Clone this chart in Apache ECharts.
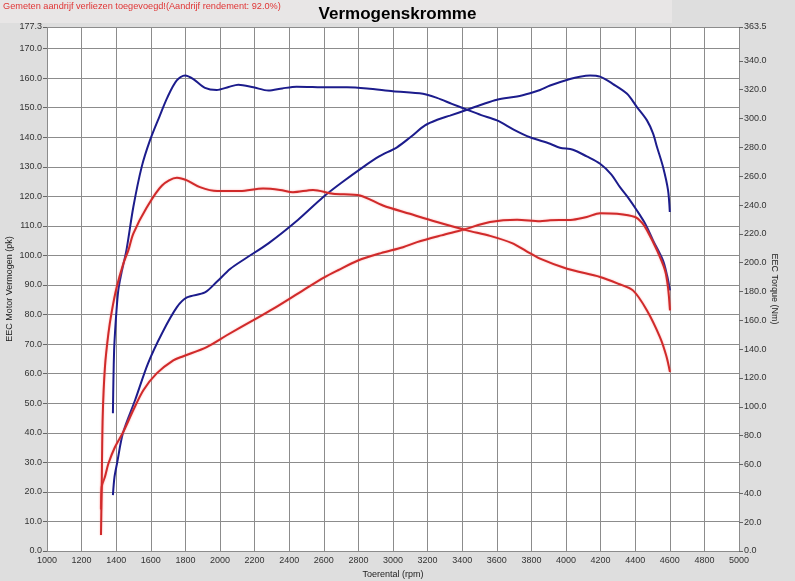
<!DOCTYPE html>
<html>
<head>
<meta charset="utf-8">
<script src="https://cdn.jsdelivr.net/npm/echarts@6/dist/echarts.min.js"></script>
<style>
html,body{margin:0;padding:0;background:#dedede;}
#c{width:795px;height:581px;}
</style>
</head>
<body>
<div id="c"></div>
<script>
// Blue run - power (pk, left axis)
var bluePowerRpm = [1381,1390,1405,1439,1509,1584,1665,1751,1809,1913,1980,2060,2145,2280,2450,2595,2700,2827,2920,3023,3100,3185,3260,3329,3428,3510,3601,3717,3792,3850,3908,4023,4080,4139,4197,4272,4353,4410,4468,4503,4526,4561,4590,4600];
var bluePowerPk  = [18.9,25,29.7,39.9,51,63.5,73.7,82.5,85.8,87.5,91,95.5,98.9,104.1,112,119.7,124.5,129.9,133.5,136.6,140,144,146,147.3,149.3,151,152.7,153.8,154.9,156,157.5,159.7,160.5,160.9,160.5,158,154.7,150.2,145.7,141.3,136.7,129.9,122,114.7];
// Blue run - torque (Nm, right axis)
var blueTorqueRpm = [1381,1384,1388,1393,1400,1412,1430,1459,1499,1547,1595,1650,1696,1750,1798,1846,1913,1981,2050,2106,2193,2280,2360,2443,2626,2734,2850,3000,3173,3254,3340,3428,3510,3601,3700,3792,3908,3965,4040,4120,4197,4260,4312,4360,4410,4460,4503,4561,4585,4601];
var blueTorqueNm  = [95.5,118.9,139.4,151.1,164.0,180.8,192.7,208.5,238.6,266.3,284.8,301.4,314.7,326.4,329.9,327.4,321.3,319.8,321.9,323.5,321.7,319.4,320.9,322.1,321.7,321.7,320.9,319.0,317.2,314.3,310.2,306.1,302.4,298.7,292.2,287.0,282.5,279.7,278.4,273.7,268.6,261.4,252.4,245.0,236.2,226.5,215.5,201.5,190.7,180.8];
// Red run - power (pk, left axis)
var redPowerRpm = [1312,1316,1335,1355,1393,1441,1499,1557,1634,1730,1788,1923,2039,2193,2309,2480,2600,2682,2798,2930,3058,3139,3280,3405,3561,3717,3850,3908,4040,4120,4197,4295,4399,4440,4468,4526,4572,4590,4601];
var redPowerPk  = [14,21.7,25.1,29.6,35.2,40.3,47.7,54.4,60.1,64.5,65.9,69,73,78.1,82,88.2,92.5,95,98.3,100.8,102.8,104.5,106.8,108.7,111.3,112.1,111.6,111.9,112.1,113,114.3,114.1,113,111,108.5,101.7,95,89,81.4];
// Red run - torque (Nm, right axis)
var redTorqueRpm = [1312,1316,1322,1335,1355,1374,1403,1441,1470,1499,1578,1665,1751,1809,1884,1983,2116,2249,2347,2422,2538,2653,2809,2942,3098,3254,3428,3561,3688,3770,3850,4006,4197,4300,4387,4468,4543,4580,4601];
var redTorqueNm  = [11.1,42.2,93.1,127.7,150.9,165.9,183.1,199.3,208.5,220.2,238.6,253.6,258.9,257.1,252.4,249.7,249.7,251.4,250.5,248.9,250.5,247.9,246.6,239.7,233.9,228.2,222.4,218.6,213.6,208.1,202.8,195.8,190.1,185.5,180.8,166.9,148.4,135.3,124.2];
// Axis tick labels
var leftTicks  = [0,10,20,30,40,50,60,70,80,90,100,110,120,130,140,150,160,170,177.3];
var rightTicks = [0,20,40,60,80,100,120,140,160,180,200,220,240,260,280,300,320,340,363.5];

function pairs(xs, ys){ return xs.map(function(x,i){ return [x, ys[i]]; }); }

var FONT = 'Liberation Sans, Arial, sans-serif';
var chart = echarts.init(document.getElementById('c'), null, {renderer:'canvas'});
chart.setOption({
  backgroundColor:'#dedede',
  animation:false,
  title:{text:'Vermogenskromme', left:'center', top:1,
    textStyle:{fontFamily:FONT, fontSize:17, fontWeight:'bold', color:'#000'}},
  graphic:[
    {type:'rect', left:0, top:0, z:-1, shape:{width:672, height:23}, style:{fill:'#e8e6e6'}},
    {type:'text', left:3, top:2, style:{text:'Gemeten aandrijf verliezen toegevoegd!(Aandrijf rendement: 92.0%)',
      fill:'#e03535', font:'9.2px Liberation Sans, Arial, sans-serif'}}
  ],
  grid:{left:47, right:56, top:27, bottom:30, show:true, backgroundColor:'#ffffff', borderWidth:0,
    containLabel:false, outerBoundsMode:'none'},
  xAxis:{type:'value', min:1000, max:5000, interval:200,
    name:'Toerental (rpm)', nameLocation:'middle', nameGap:19, nameMoveOverlap:false,
    nameTextStyle:{fontFamily:FONT, fontSize:9, color:'#222'},
    axisLine:{show:false}, axisTick:{show:false},
    axisLabel:{fontFamily:FONT, fontSize:9, color:'#333', margin:5, formatter:function(v){return String(v);}},
    splitLine:{show:true, lineStyle:{color:'#8c8c8c', width:1}}},
  yAxis:[
    {type:'value', min:0, max:177.3, interval:10, position:'left',
      name:'EEC Motor Vermogen (pk)', nameLocation:'middle', nameGap:33, nameRotate:90, nameMoveOverlap:false,
      nameTextStyle:{fontFamily:FONT, fontSize:9, color:'#222'},
      axisLine:{show:false},
      axisTick:{show:true, length:4, lineStyle:{color:'#666'}, customValues:leftTicks},
      axisLabel:{fontFamily:FONT, fontSize:9, color:'#333', margin:5, customValues:leftTicks,
        formatter:function(v){return v.toFixed(1);}},
      splitLine:{show:true, lineStyle:{color:'#8c8c8c', width:1}}},
    {type:'value', min:0, max:363.5, interval:20, position:'right',
      name:'EEC Torque (Nm)', nameLocation:'middle', nameGap:31, nameRotate:-90, nameMoveOverlap:false,
      nameTextStyle:{fontFamily:FONT, fontSize:9, color:'#222'},
      axisLine:{show:false},
      axisTick:{show:true, length:4, lineStyle:{color:'#666'}, customValues:rightTicks},
      axisLabel:{fontFamily:FONT, fontSize:9, color:'#333', margin:5, customValues:rightTicks,
        formatter:function(v){return v.toFixed(1);}},
      splitLine:{show:false}}
  ],
  series:[
    {type:'line', name:'P blauw', yAxisIndex:0, data:pairs(bluePowerRpm,bluePowerPk), showSymbol:false, smooth:0.3,
      lineStyle:{color:'#1c1c8c', width:2}},
    {type:'line', name:'T blauw', yAxisIndex:1, data:pairs(blueTorqueRpm,blueTorqueNm), showSymbol:false, smooth:0.3,
      lineStyle:{color:'#1c1c8c', width:2}},
    {type:'line', name:'P rood', yAxisIndex:0, data:pairs(redPowerRpm,redPowerPk), showSymbol:false, smooth:0.3,
      lineStyle:{color:'#d02a2a', width:2, shadowColor:'rgba(255,120,120,0.6)', shadowBlur:2}},
    {type:'line', name:'T rood', yAxisIndex:1, data:pairs(redTorqueRpm,redTorqueNm), showSymbol:false, smooth:0.3,
      lineStyle:{color:'#d02a2a', width:2, shadowColor:'rgba(255,120,120,0.6)', shadowBlur:2}}
  ]
});
</script>
</body>
</html>
